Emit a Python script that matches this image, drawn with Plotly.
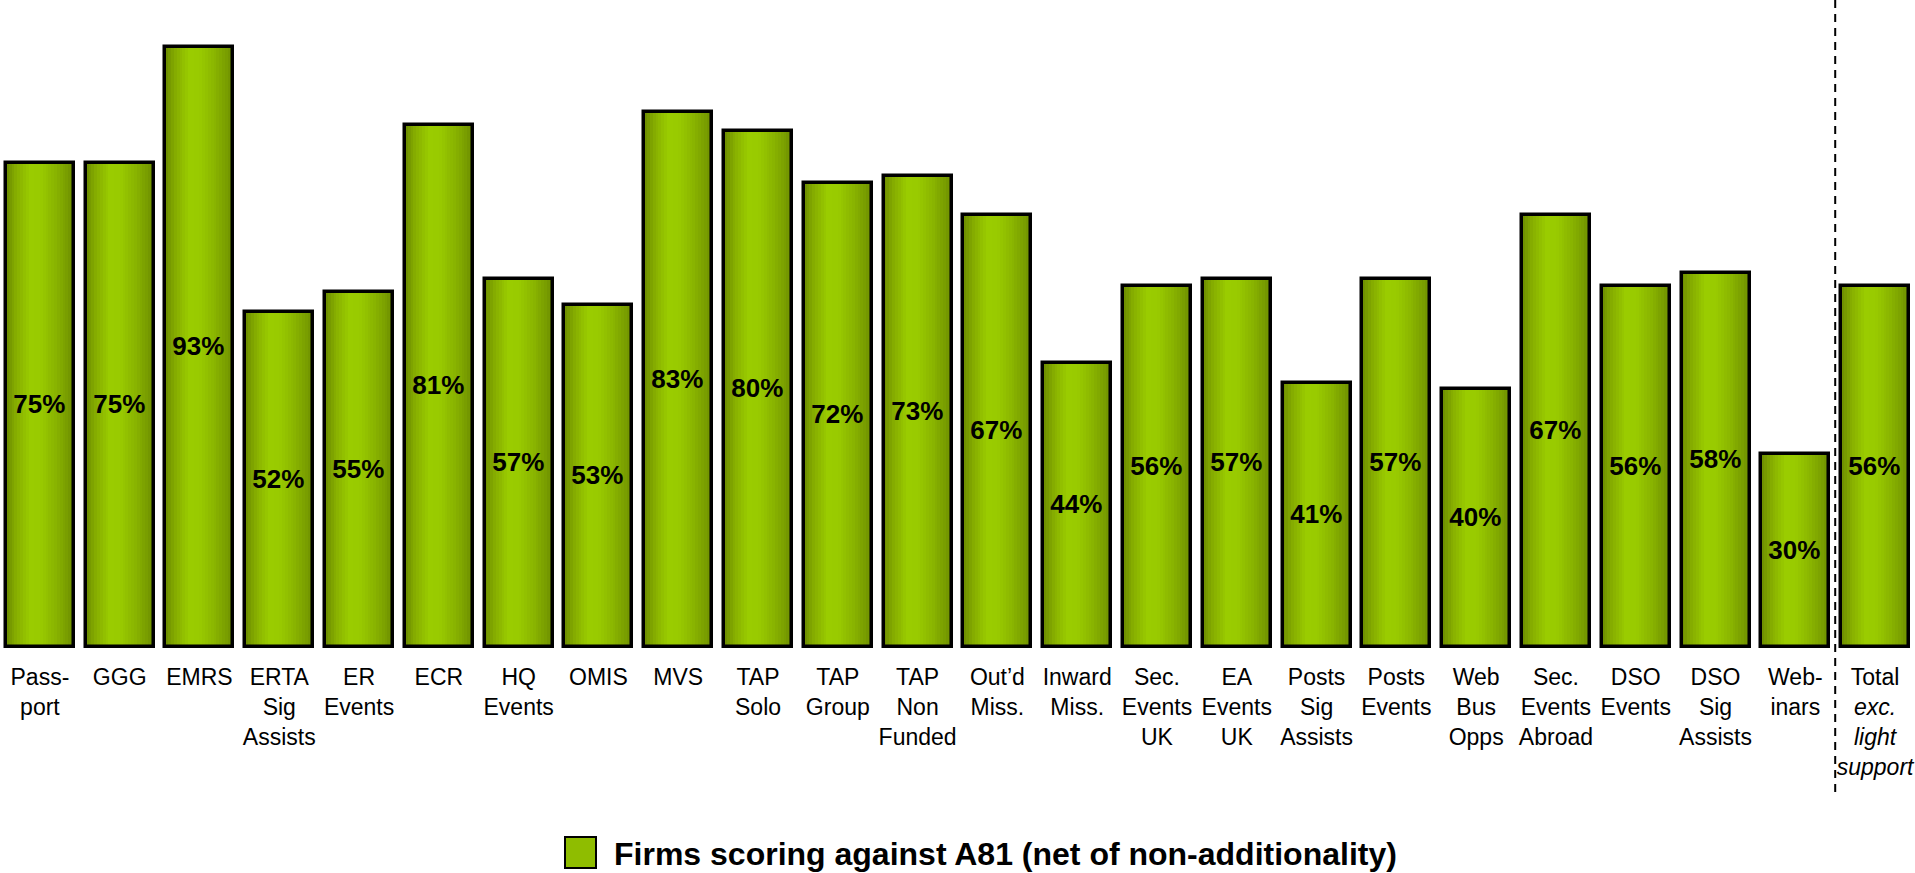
import plotly.graph_objects as go

# Programme categories (tick labels) and the share of firms scoring against A81
categories = [
    "Pass-<br>port", "GGG", "EMRS", "ERTA<br>Sig<br>Assists", "ER<br>Events", "ECR",
    "HQ<br>Events", "OMIS", "MVS", "TAP<br>Solo", "TAP<br>Group", "TAP<br>Non<br>Funded",
    "Out’d<br>Miss.", "Inward<br>Miss.", "Sec.<br>Events<br>UK", "EA<br>Events<br>UK",
    "Posts<br>Sig<br>Assists", "Posts<br>Events", "Web<br>Bus<br>Opps", "Sec.<br>Events<br>Abroad",
    "DSO<br>Events", "DSO<br>Sig<br>Assists", "Web-<br>inars",
    "Total<br><i>exc.<br>light<br>support</i>",
]
values = [75, 75, 93, 52, 55, 81, 57, 53, 83, 80, 72, 73, 67, 44, 56, 57, 41, 57, 40, 67, 56, 58, 30, 56]
labels = [f"{v}%" for v in values]
series_name = "Firms scoring against A81 (net of non-additionality)"

FONT = "Arial, Liberation Sans, sans-serif"
BAR_W = 0.852
N_SLICES = 24

# horizontal shading across each bar: darker edges, bright lime just left of centre
stops = [(0.0, (0x6c, 0x8c, 0x00)), (0.15, (0x86, 0xad, 0x00)), (0.35, (0x9a, 0xcc, 0x00)),
         (0.5, (0x99, 0xcb, 0x00)), (0.72, (0x8a, 0xb5, 0x00)), (0.9, (0x79, 0x9d, 0x00)),
         (1.0, (0x6c, 0x8e, 0x00))]


def shade(t):
    for (t0, c0), (t1, c1) in zip(stops[:-1], stops[1:]):
        if t0 <= t <= t1:
            f = (t - t0) / (t1 - t0) if t1 > t0 else 0
            r, g, b = (round(a + (b_ - a) * f) for a, b_ in zip(c0, c1))
            return f"rgb({r},{g},{b})"
    return "rgb(108,142,0)"


x = list(range(len(categories)))
fig = go.Figure()

# gradient fill: each slice starts further right and runs to the right edge
step = BAR_W / N_SLICES
for i in range(N_SLICES):
    fig.add_trace(go.Bar(
        x=x, y=values,
        width=BAR_W - i * step,
        offset=-BAR_W / 2 + i * step,
        marker=dict(color=shade((i + 0.5) / N_SLICES), line=dict(width=0)),
        showlegend=False, hoverinfo="skip",
    ))

# outline and value labels
fig.add_trace(go.Bar(
    x=x, y=values, width=BAR_W, offset=-BAR_W / 2,
    name=series_name,
    marker=dict(color="rgba(0,0,0,0)", line=dict(color="black", width=3.5)),
    text=labels, textposition="inside", insidetextanchor="middle", textangle=0,
    constraintext="none",
    textfont=dict(family=FONT, size=26, color="black", weight="bold"),
    showlegend=False,
))

PLOT_H = 655       # plot area height in px (top margin 0)
ZERO_PX = 647      # baseline position
PX_PER_UNIT = 6.45
y_min = -(PLOT_H - ZERO_PX) / PX_PER_UNIT
y_max = y_min + PLOT_H / PX_PER_UNIT

fig.update_layout(
    width=1915, height=873,
    margin=dict(l=0, r=0, t=0, b=873 - PLOT_H, pad=0),
    paper_bgcolor="white", plot_bgcolor="white",
    barmode="overlay", bargap=0,
    showlegend=False,
    font=dict(family=FONT, color="black"),
    xaxis=dict(
        tickmode="array", tickvals=x, ticktext=categories,
        range=[-0.5, len(categories) - 0.5],
        showgrid=False, zeroline=False, showline=False, ticks="",
        tickfont=dict(family=FONT, size=23, color="black"),
        ticklabelstandoff=6, ticklabeloverflow="allow",
    ),
    yaxis=dict(range=[y_min, y_max], visible=False, fixedrange=True),
    shapes=[
        # separator before the total
        dict(type="line", xref="x", yref="paper", x0=22.5, x1=22.5,
             y0=1, y1=(PLOT_H - 792) / PLOT_H,
             line=dict(color="black", width=2, dash="8px,6px")),
        # legend swatch
        dict(type="rect", xref="paper", yref="paper",
             x0=565 / 1915, x1=596 / 1915,
             y0=(PLOT_H - 868) / PLOT_H, y1=(PLOT_H - 837) / PLOT_H,
             fillcolor="#8fbd00", line=dict(color="black", width=2)),
    ],
    annotations=[
        dict(text=f"<b>{series_name}</b>", xref="paper", yref="paper",
             x=612 / 1915, y=(PLOT_H - 854) / PLOT_H, xanchor="left", yanchor="middle",
             showarrow=False, font=dict(family=FONT, size=32, color="black")),
    ],
)

fig.write_html("out.html")
